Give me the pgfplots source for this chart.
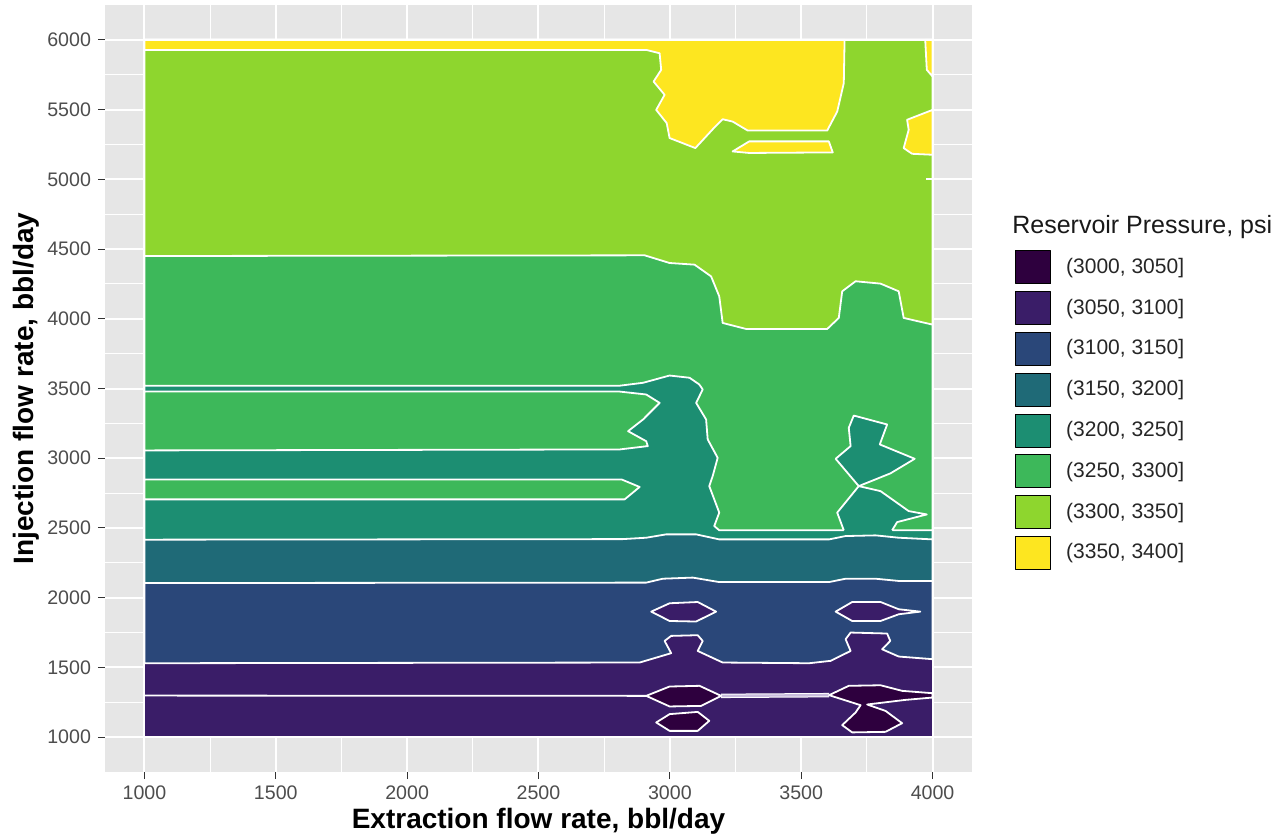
\documentclass[border=0pt]{standalone}
\usepackage{pgfplots}
\pgfplotsset{compat=1.18}
\usepackage{fontspec}
\setmainfont{Liberation Sans}
\definecolor{cA}{HTML}{2E003E}
\definecolor{cB}{HTML}{3A1D68}
\definecolor{cC}{HTML}{2A4779}
\definecolor{cD}{HTML}{1F6A77}
\definecolor{cE}{HTML}{1C8E72}
\definecolor{cF}{HTML}{3DB85A}
\definecolor{cG}{HTML}{8ED62E}
\definecolor{cH}{HTML}{FDE620}
\definecolor{panel}{HTML}{E6E6E6}
\definecolor{ticklab}{HTML}{4D4D4D}
\definecolor{tickc}{HTML}{333333}
\definecolor{lav}{HTML}{C9BEDD}
\begin{document}
\begin{tikzpicture}
\path[use as bounding box] (-52.5pt,-32pt) rectangle (588pt,386pt);
\begin{axis}[
  at={(0,0)}, anchor=south west,
  scale only axis, width=433.5pt, height=383.5pt,
  xmin=850, xmax=4150, ymin=750, ymax=6250,
  clip mode=individual,
  xtick={1000,1500,...,4000}, ytick={1000,1500,...,6000},
  minor xtick={1250,1750,...,3750}, minor ytick={1250,1750,...,5750},
  grid=both,
  major grid style={white, line width=1pt},
  minor grid style={white, line width=0.5pt},
  axis background/.style={fill=panel},
  axis line style={draw=none},
  tick align=outside,
  xtick pos=bottom, ytick pos=left,
  major tick length=3.5pt, minor tick length=0pt,
  tick style={tickc, line width=0.5pt},
  ticklabel style={font=\fontsize{9.8}{11}\selectfont, text=ticklab},
  /pgf/number format/assume math mode=true,
  /pgf/number format/set thousands separator={},
  xlabel={Extraction flow rate, bbl/day},
  ylabel={Injection flow rate, bbl/day},
  every axis x label/.style={at={(axis description cs:0.5,-0.0743)}, anchor=base, font=\bfseries\fontsize{14}{16}\selectfont},
  every axis y label/.style={at={(axis description cs:-0.0827,0.5)}, rotate=90, anchor=base, font=\bfseries\fontsize{14}{16}\selectfont},
  legend style={at={(axis description cs:1.0496,0.6806)}, anchor=north west, draw=none, fill=none, inner sep=0pt, row sep=3.5pt, column sep=7.5pt, font=\fontsize{10.5}{12}\selectfont, text=black!85, nodes={inner sep=0pt}},
  legend cell align=left,
  legend image code/.code={\fill[#1] (0pt,-8.25pt) rectangle (17.5pt,8.25pt);},
  every axis plot/.append style={line join=round, forget plot},
]
% base: (3050,3100]
\addplot[fill=cB, draw=white, line width=0.9pt] coordinates {(1000,1000)(4000,1000)(4000,6000)(1000,6000)} -- cycle;
% (3100,3150]
\addplot[fill=cC, draw=white, line width=0.9pt] coordinates {(1000,1530)(2885,1535)(3005,1602)(2980,1690)(3005,1726)(3106,1731)(3125,1690)(3106,1618)(3201,1535)(3530,1530)(3612,1547)(3688,1618)(3669,1702)(3688,1750)(3827,1743)(3839,1690)(3808,1630)(3871,1578)(4000,1559)(4000,6000)(1000,6000)} -- cycle;
% (3150,3200]
\addplot[fill=cD, draw=white, line width=0.9pt] coordinates {(1000,2105)(2910,2108)(2973,2136)(3087,2144)(3188,2112)(3606,2112)(3669,2136)(3783,2136)(3871,2120)(4000,2120)(4000,6000)(1000,6000)} -- cycle;
% (3200,3250]
\addplot[fill=cE, draw=white, line width=0.9pt] coordinates {(1000,2416)(2820,2420)(2910,2430)(2986,2454)(3100,2454)(3188,2418)(3606,2418)(3669,2442)(3783,2447)(3871,2430)(4000,2418)(4000,6000)(1000,6000)} -- cycle;
% (3250,3300] main
\addplot[fill=cF, draw=white, line width=0.9pt] coordinates {(1000,6000)(1000,3520)(2809,3520)(2898,3541)(2999,3593)(3075,3577)(3112,3529)(3125,3493)(3100,3397)(3138,3278)(3144,3135)(3182,3003)(3163,2872)(3150,2800)(3188,2610)(3169,2514)(3188,2483)(4000,2483)(4000,6000)} -- cycle;
% (3250,3300] left tongues
\addplot[fill=cF, draw=white, line width=0.9pt] coordinates {(1000,3478)(2809,3478)(2910,3457)(2961,3397)(2898,3278)(2841,3194)(2910,3122)(2916,3087)(2809,3063)(1000,3056)} -- cycle;
\addplot[fill=cF, draw=white, line width=0.9pt] coordinates {(1000,2848)(2816,2848)(2885,2794)(2828,2705)(1000,2705)} -- cycle;
% (3200,3250] right blob
\addplot[fill=cE, draw=none] coordinates {(3719,2800)(3631,2996)(3688,3087)(3681,3218)(3700,3306)(3827,3242)(3799,3099)(3932,2996)(3839,2891)(3719,2800)(3802,2764)(3909,2621)(3978,2597)(3865,2542)(3846,2483)(3850,2455)(3662,2455)(3662,2483)(3637,2610)} -- cycle;
\addplot[draw=white, line width=0.9pt] coordinates {(3662,2483)(3637,2610)(3719,2800)(3631,2996)(3688,3087)(3681,3218)(3700,3306)(3827,3242)(3799,3099)(3932,2996)(3839,2891)(3719,2800)(3802,2764)(3909,2621)(3978,2597)(3865,2542)(3846,2483)};
% (3300,3350]
\addplot[fill=cG, draw=white, line width=0.9pt] coordinates {(1000,4450)(2904,4455)(2999,4400)(3094,4388)(3157,4304)(3188,4161)(3201,3970)(3290,3927)(3599,3927)(3643,4006)(3656,4197)(3707,4269)(3802,4252)(3871,4197)(3890,4006)(4000,3958)(4000,6000)(1000,6000)} -- cycle;
\addplot[draw=white, line width=0.9pt] coordinates {(3975,5000)(4000,5000)};
% (3350,3400]
\addplot[fill=cH, draw=white, line width=0.9pt] coordinates {(1000,6000)(3665,6000)(3662,5690)(3637,5486)(3599,5350)(3296,5350)(3239,5414)(3201,5431)(3173,5379)(3097,5224)(2999,5296)(2988,5403)(2948,5498)(2980,5606)(2938,5701)(2967,5785)(2961,5904)(2910,5928)(1000,5928)} -- cycle;
\addplot[fill=cH, draw=white, line width=0.9pt] coordinates {(3972,6000)(4000,6000)(4000,5737)(3978,5785)} -- cycle;
\addplot[fill=cH, draw=white, line width=0.9pt] coordinates {(4000,5498)(3903,5427)(3909,5355)(3890,5224)(3922,5183)(4000,5176)} -- cycle;
\addplot[fill=cH, draw=white, line width=0.9pt] coordinates {(3239,5200)(3302,5272)(3605,5272)(3620,5193)(3302,5189)} -- cycle;
% (3050,3100] islands
\addplot[fill=cB, draw=white, line width=0.9pt] coordinates {(2929,1900)(2999,1960)(3106,1969)(3176,1900)(3100,1829)(2999,1833)} -- cycle;
\addplot[fill=cB, draw=white, line width=0.9pt] coordinates {(3631,1900)(3694,1969)(3802,1969)(3871,1917)(3953,1900)(3871,1881)(3802,1833)(3694,1833)} -- cycle;
% (3000,3050]
\addplot[draw=white, line width=0.9pt] coordinates {(1000,1298)(2910,1296)};
\addplot[draw=white, line width=2.2pt] coordinates {(3195,1296)(3606,1301)};
\addplot[draw=lav, line width=1.2pt] coordinates {(3195,1296)(3606,1301)};
\addplot[fill=cA, draw=white, line width=0.9pt] coordinates {(2910,1296)(2999,1363)(3113,1368)(3195,1296)(3119,1224)(2999,1220)} -- cycle;
\addplot[fill=cA, draw=white, line width=0.9pt] coordinates {(2948,1105)(2999,1165)(3106,1181)(3150,1117)(3106,1045)(2999,1045)} -- cycle;
\addplot[fill=cA, draw=white, line width=0.9pt] coordinates {(3606,1301)(3681,1368)(3802,1372)(3884,1332)(4000,1315)(4000,1284)(3896,1267)(3751,1234)(3821,1188)(3884,1100)(3821,1038)(3694,1034)(3656,1086)(3707,1177)(3726,1229)} -- cycle;
% legend
\addlegendimage{fill=cA}\addlegendentry{(3000, 3050]}
\addlegendimage{fill=cB}\addlegendentry{(3050, 3100]}
\addlegendimage{fill=cC}\addlegendentry{(3100, 3150]}
\addlegendimage{fill=cD}\addlegendentry{(3150, 3200]}
\addlegendimage{fill=cE}\addlegendentry{(3200, 3250]}
\addlegendimage{fill=cF}\addlegendentry{(3250, 3300]}
\addlegendimage{fill=cG}\addlegendentry{(3300, 3350]}
\addlegendimage{fill=cH}\addlegendentry{(3350, 3400]}
\node[anchor=base west, font=\fontsize{12.5}{14}\selectfont, text=black!90, inner sep=0pt] at (axis description cs:1.0461,0.7027) {Reservoir Pressure, psi};
\end{axis}
\end{tikzpicture}
\end{document}
